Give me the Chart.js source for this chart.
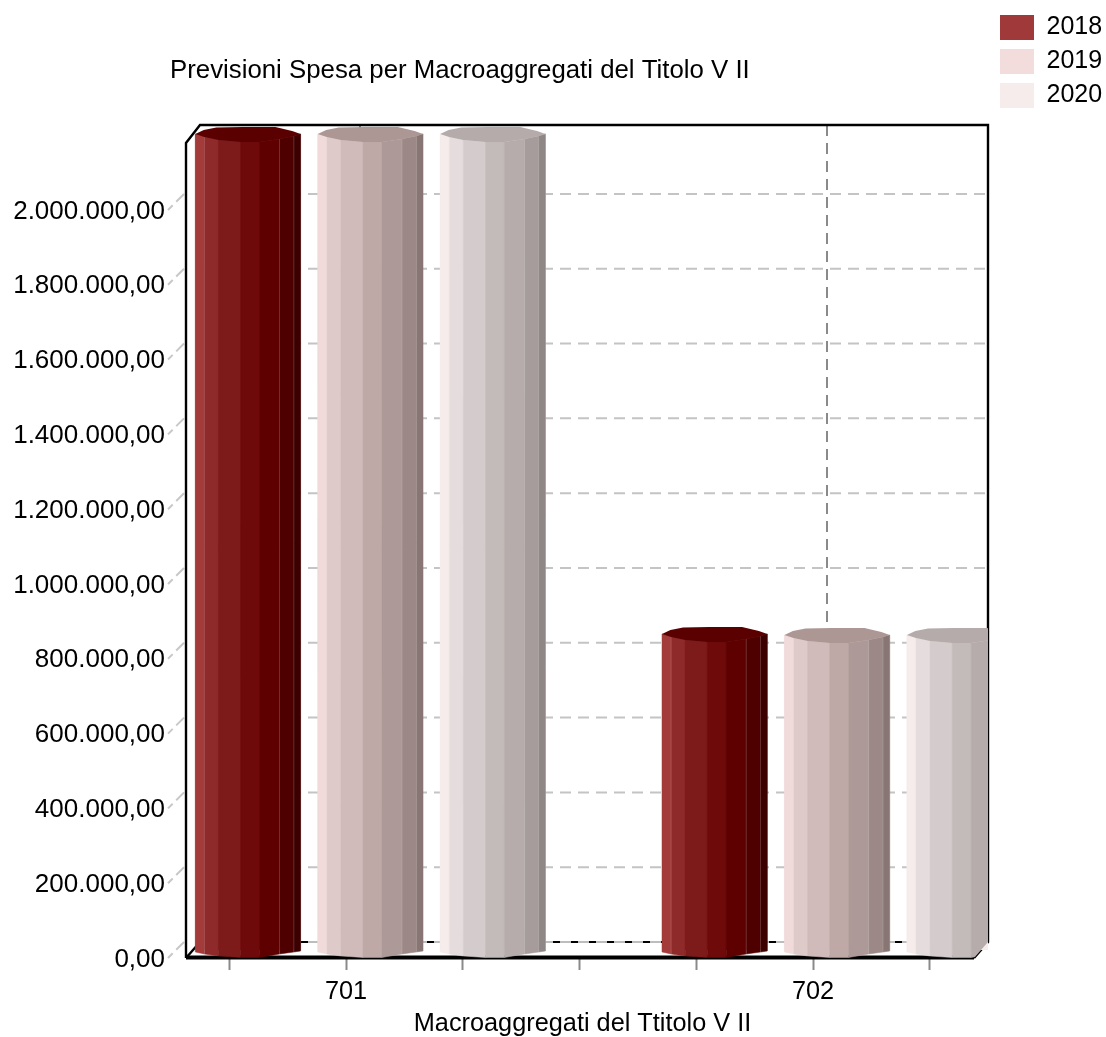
<!DOCTYPE html>
<html>
<head>
<meta charset="utf-8">
<title>Previsioni Spesa</title>
<script src="https://cdn.jsdelivr.net/npm/chart.js@4"></script>
<style>
  html, body { margin: 0; padding: 0; background: #fff; }
  canvas { display: block; }
</style>
</head>
<body>
<canvas id="chart" width="1106" height="1037"></canvas>
<script>
// dati
const categories = [701, 702];
const years = ['2018', '2019', '2020'];
const values2018 = [2182000, 845000];
const values2019 = [2182000, 842000];
const values2020 = [2182000, 842000];
const yTicks = [0, 200000, 400000, 600000, 800000, 1000000, 1200000, 1400000, 1600000, 1800000, 2000000];
const yTickLabels = ['0,00', '200.000,00', '400.000,00', '600.000,00', '800.000,00', '1.000.000,00', '1.200.000,00', '1.400.000,00', '1.600.000,00', '1.800.000,00', '2.000.000,00'];
const xTicks = [700.75, 701, 701.25, 701.5, 701.75, 702, 702.25];

// colori delle facce dei cilindri, da sinistra a destra
const legendColors = ['#a03a3a', '#f2dcdc', '#f6ecec'];
const capColors = ['#5a0000', '#ac9795', '#b5abab'];
const faceColors = [
  ['#a33b3b', '#8f2a2a', '#7d1a1a', '#6e0a0a', '#5f0000', '#4e0000', '#3c0000'],
  ['#f0dada', '#dfcaca', '#d0bbba', '#bea9a7', '#ad9a98', '#9c8987', '#887674'],
  ['#f5eceb', '#e5dddd', '#d4cccc', '#c3bbba', '#b5acab', '#a59c9b', '#8f8786']
];
const faceStops = [0, 0.086, 0.22, 0.43, 0.61, 0.8, 0.936, 1];
const topOffset = [0, 3, 6, 8, 8, 5, 2, 0];
const bottomOffset = [2, 4, 6, 7.5, 7.5, 4, 2, 1];
const capBack = [[0.08, -4], [0.2, -6.5], [0.45, -7], [0.76, -7], [0.92, -3]];

const pxPerUnit = 374 / 1000000;
const FONT = { family: '"Liberation Sans", Arial, sans-serif', size: 25.3 };
const DEPTH_X = 14, DEPTH_Y = 8;

function dashedLine(ctx, x1, y1, x2, y2, color, dash) {
  ctx.beginPath();
  ctx.setLineDash(dash);
  ctx.strokeStyle = color;
  ctx.moveTo(x1, y1);
  ctx.lineTo(x2, y2);
  ctx.stroke();
  ctx.setLineDash([]);
}

const cylinders = {
  id: 'cylinders',
  afterLayout(chart) {
    // titolo e legenda non stanno nelle posizioni standard
    chart.titleBlock.left = 170;
    chart.legend.left = 991;
    chart.legend.top = 6;
    chart.legend.adjustHitBoxes();
    chart.scales.x.right -= 9;
  },
  beforeDatasetsDraw(chart) {
    const ctx = chart.ctx, area = chart.chartArea, y = chart.scales.y, x = chart.scales.x;
    const backBottom = y.getPixelForValue(0) - DEPTH_Y;
    ctx.save();
    ctx.lineWidth = 2;
    // griglia sul fondo
    yTicks.forEach(v => {
      const py = y.getPixelForValue(v);
      if (v > 0) dashedLine(ctx, area.left + DEPTH_X, py - DEPTH_Y, area.right, py - DEPTH_Y, '#c4c4c4', [11, 7]);
      dashedLine(ctx, area.left - 2, py - DEPTH_Y, area.left - 18, py + DEPTH_Y, '#c8c8c8', [11, 5]);
    });
    categories.forEach(c => {
      const px = x.getPixelForValue(c) + DEPTH_X;
      dashedLine(ctx, px, area.top, px, backBottom, '#8a8a8a', [11, 7]);
    });
    // pavimento
    dashedLine(ctx, area.left + DEPTH_X, backBottom, area.right, backBottom, '#000', []);
    dashedLine(ctx, area.left + DEPTH_X, backBottom, area.right, backBottom, '#bdbdbd', [11, 7]);
    // cornice
    ctx.strokeStyle = '#000';
    ctx.lineWidth = 2.4;
    ctx.beginPath();
    ctx.moveTo(area.left, area.bottom);
    ctx.lineTo(area.left, area.top + 18);
    ctx.lineTo(area.left + DEPTH_X, area.top);
    ctx.lineTo(area.right, area.top);
    ctx.lineTo(area.right, backBottom);
    ctx.lineTo(area.right - DEPTH_X, area.bottom);
    ctx.moveTo(area.left, area.bottom);
    ctx.lineTo(area.left + DEPTH_X, backBottom);
    ctx.stroke();
    ctx.lineWidth = 4;
    ctx.beginPath();
    ctx.moveTo(area.left, area.bottom - 0.5);
    ctx.lineTo(area.right - DEPTH_X, area.bottom - 0.5);
    ctx.stroke();
    ctx.restore();
  },
  afterDatasetsDraw(chart) {
    const ctx = chart.ctx, area = chart.chartArea;
    ctx.save();
    // i cilindri finiscono contro lo spigolo destro della scatola
    ctx.beginPath();
    ctx.moveTo(area.left, area.top);
    ctx.lineTo(area.right, area.top);
    ctx.lineTo(area.right, area.bottom - DEPTH_Y * 2);
    ctx.lineTo(area.right - DEPTH_X, area.bottom);
    ctx.lineTo(area.left, area.bottom);
    ctx.closePath();
    ctx.clip();
    chart.data.datasets.forEach((ds, d) => {
      chart.getDatasetMeta(d).data.forEach(bar => {
        const left = bar.x - bar.width / 2;
        const fx = f => left + bar.width * f;
        faceColors[d].forEach((color, i) => {
          ctx.beginPath();
          ctx.moveTo(fx(faceStops[i]), bar.y + topOffset[i]);
          ctx.lineTo(fx(faceStops[i + 1]), bar.y + topOffset[i + 1]);
          ctx.lineTo(fx(faceStops[i + 1]), bar.base + bottomOffset[i + 1]);
          ctx.lineTo(fx(faceStops[i]), bar.base + bottomOffset[i]);
          ctx.closePath();
          ctx.fillStyle = color;
          ctx.strokeStyle = color;
          ctx.lineWidth = 0.5;
          ctx.fill();
          ctx.stroke();
        });
        // riflessi sottili fra le facce
        ctx.strokeStyle = 'rgba(255,255,255,0.18)';
        ctx.lineWidth = 1;
        [1, 5, 6].forEach(i => {
          ctx.beginPath();
          ctx.moveTo(fx(faceStops[i]), bar.y + topOffset[i]);
          ctx.lineTo(fx(faceStops[i]), bar.base + bottomOffset[i]);
          ctx.stroke();
        });
        // coperchio
        ctx.beginPath();
        ctx.moveTo(fx(0), bar.y);
        capBack.forEach(p => ctx.lineTo(fx(p[0]), bar.y + p[1]));
        ctx.lineTo(fx(1), bar.y);
        for (let i = faceStops.length - 2; i > 0; i--) {
          ctx.lineTo(fx(faceStops[i]), bar.y + topOffset[i]);
        }
        ctx.closePath();
        ctx.fillStyle = capColors[d];
        ctx.fill();
      });
    });
    ctx.restore();
  }
};

new Chart(document.getElementById('chart'), {
  type: 'bar',
  data: {
    datasets: [values2018, values2019, values2020].map((values, d) => ({
      label: years[d],
      data: values.map((v, i) => ({ x: categories[i], y: v })),
      backgroundColor: legendColors[d],
      xAxisID: 'xBars',
      yAxisID: 'y',
      categoryPercentage: 0.787,
      barPercentage: 0.86
    }))
  },
  plugins: [cylinders],
  options: {
    responsive: false,
    animation: false,
    layout: { padding: 0 },
    scales: {
      // asse visibile: etichette e tacche
      x: {
        type: 'linear',
        position: 'bottom',
        offset: false,
        min: 701 - 160 / 467,
        max: 702 + 175 / 467,
        afterBuildTicks: scale => { scale.ticks = xTicks.map(v => ({ value: v })); },
        afterFit: scale => { scale.height = 79; },
        grid: { offset: false, drawOnChartArea: false, tickLength: 12, tickWidth: 2, tickColor: '#8a8a8a' },
        border: { display: false },
        ticks: {
          autoSkip: false,
          maxRotation: 0,
          padding: 7,
          color: '#000',
          font: FONT,
          callback: v => (categories.includes(v) ? String(v) : '')
        },
        title: { display: true, text: 'Macroaggregati del Ttitolo V II', color: '#000', font: FONT, padding: { top: 0, bottom: -2 } }
      },
      // asse nascosto: posizione dei cilindri
      xBars: {
        type: 'linear',
        axis: 'x',
        display: false,
        offset: false,
        min: 701 - 184.5 / 467,
        max: 702 + 151 / 467,
        afterBuildTicks: scale => { scale.ticks = categories.map(v => ({ value: v })); },
        grid: { offset: false }
      },
      y: {
        type: 'linear',
        min: -DEPTH_Y / pxPerUnit,
        max: 825 / pxPerUnit,
        afterBuildTicks: scale => { scale.ticks = yTicks.map(v => ({ value: v })); },
        afterFit: scale => { scale.width = 186; },
        grid: { display: false },
        border: { display: false },
        ticks: {
          autoSkip: false,
          padding: 13,
          labelOffset: 9.5,
          color: '#000',
          font: { ...FONT, size: 26 },
          callback: (v, i) => yTickLabels[i]
        }
      }
    },
    plugins: {
      title: {
        display: true,
        text: 'Previsioni Spesa per Macroaggregati del Titolo V II',
        align: 'start',
        color: '#000',
        font: { ...FONT, size: 25.8, weight: 'normal' },
        padding: { top: 55, bottom: 39 }
      },
      legend: {
        position: 'right',
        align: 'start',
        maxWidth: 118,
        labels: { boxWidth: 34, boxHeight: 25, padding: 9, color: '#000', font: { ...FONT, size: 25 } }
      },
      tooltip: { enabled: false }
    }
  }
});
</script>
</body>
</html>
